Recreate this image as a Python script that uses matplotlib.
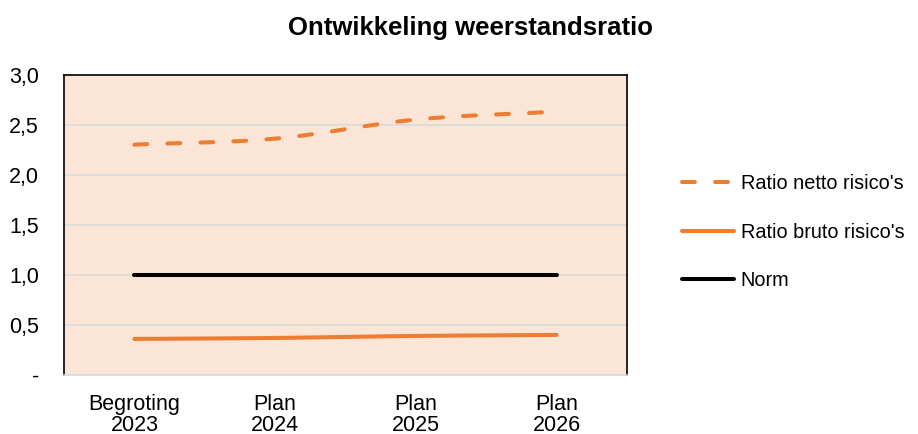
import numpy as np
import matplotlib
matplotlib.use("Agg")
import matplotlib.pyplot as plt

categories = ["Begroting\n2023", "Plan\n2024", "Plan\n2025", "Plan\n2026"]
netto = [2.30, 2.36, 2.55, 2.63]
bruto = [0.36, 0.37, 0.39, 0.40]
norm = [1.0, 1.0, 1.0, 1.0]
yticks = [0, 0.5, 1.0, 1.5, 2.0, 2.5, 3.0]
yticklabels = ["-", "0,5", "1,0", "1,5", "2,0", "2,5", "3,0"]

plt.rcParams['font.family'] = ['Liberation Sans', 'DejaVu Sans']

def smooth(y, n=40):
    # Catmull-Rom spline through the points (Excel-like smoothed line)
    y = np.asarray(y, float)
    x = np.arange(len(y), dtype=float)
    px = np.concatenate([[2*x[0]-x[1]], x, [2*x[-1]-x[-2]]])
    py = np.concatenate([[2*y[0]-y[1]], y, [2*y[-1]-y[-2]]])
    xs, ys = [], []
    for i in range(1, len(px)-2):
        t = np.linspace(0, 1, n)
        for arr, out in ((px, xs), (py, ys)):
            p0, p1, p2, p3 = arr[i-1], arr[i], arr[i+1], arr[i+2]
            out.append(0.5*((2*p1) + (-p0+p2)*t + (2*p0-5*p1+4*p2-p3)*t**2 + (-p0+3*p1-3*p2+p3)*t**3))
    return np.concatenate(xs), np.concatenate(ys)

orange = "#ED7D31"
fig = plt.figure(figsize=(9.18, 4.34), dpi=100)
ax = fig.add_axes([64/918, 1-375/434, (627-64)/918, (375-74.5)/434])
ax.set_facecolor("#FBE5D6")

xs, ys = smooth(netto)
ax.plot(xs, ys, color=orange, lw=2.9, linestyle=(0, (3.2, 5.0)), dash_capstyle='round',
        label="Ratio netto risico's", zorder=3)
xs, ys = smooth(bruto)
ax.plot(xs, ys, color=orange, lw=2.9, solid_capstyle='round', label="Ratio bruto risico's", zorder=3)
ax.plot(range(len(norm)), norm, color="black", lw=2.9, solid_capstyle='round', label="Norm", zorder=3)

ax.set_xlim(-0.5, 3.5)
ax.set_ylim(0, 3.0)
ax.set_yticks(yticks)
ax.set_yticklabels(yticklabels)
ax.set_xticks(range(len(categories)))
ax.set_xticklabels(categories, linespacing=0.95)
ax.yaxis.grid(True, color="#D9D9D9", lw=1.2)
ax.set_axisbelow(True)
ax.tick_params(axis='y', length=0, pad=18, labelsize=15.5)
ax.tick_params(axis='x', length=0, pad=14, labelsize=15.5)
for s in ['top', 'left', 'right']:
    ax.spines[s].set_color('black')
    ax.spines[s].set_linewidth(1.2)
ax.spines['bottom'].set_color('#D9D9D9')
ax.spines['bottom'].set_linewidth(1.2)

fig.text(471/918, 1-28/434, "Ontwikkeling weerstandsratio", ha='center', va='center',
         fontsize=18.5, fontweight='bold')

fig.legend(loc='center left', bbox_to_anchor=(674/918, 1-232/434), frameon=False,
           fontsize=14.3, handlelength=2.6, handletextpad=0.35, labelspacing=1.5,
           borderaxespad=0)

fig.savefig("out.png", dpi=100)
